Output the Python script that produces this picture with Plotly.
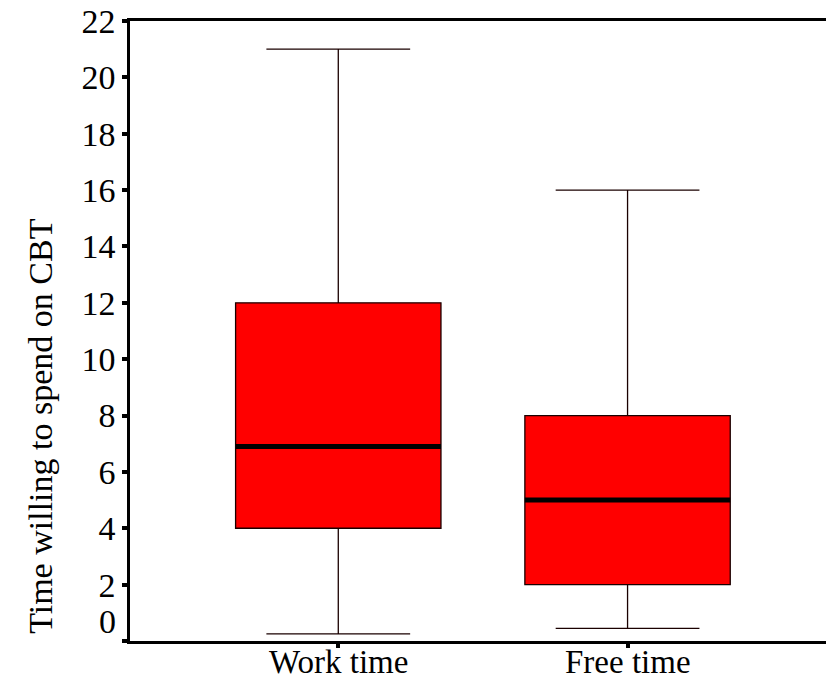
import plotly.graph_objects as go

categories = ["Work time", "Free time"]
lower_whisker = [0.25, 0.45]
q1 = [4, 2]
median = [6.9, 5]
q3 = [12, 8]
upper_whisker = [21, 16]
y_ticks = list(range(0, 23, 2))

box_width = 0.71
font = "Liberation Serif, Times New Roman, serif"

fig = go.Figure()
for i, name in enumerate(categories):
    fig.add_trace(go.Box(
        x=[i], q1=[q1[i]], median=[median[i]], q3=[q3[i]],
        lowerfence=[lower_whisker[i]], upperfence=[upper_whisker[i]],
        width=box_width, whiskerwidth=0.7,
        fillcolor="#FF0000", line=dict(color="#1a0000", width=1.3),
        boxpoints=False, showlegend=False, hoverinfo="skip",
    ))
    fig.add_trace(go.Scatter(
        x=[i - box_width / 2, i + box_width / 2], y=[median[i], median[i]],
        mode="lines", line=dict(color="black", width=5),
        showlegend=False, hoverinfo="skip",
    ))

ticktext = ["" if v == 0 else str(v) for v in y_ticks]

annotations = [
    dict(
        text="0", xref="paper", yref="y", x=0, y=0, xanchor="right",
        yanchor="middle", xshift=-12, yshift=20, showarrow=False,
        font=dict(family=font, size=34, color="black"),
    ),
    dict(
        text="Time willing to spend on CBT", xref="paper", yref="paper",
        x=0, y=0.347, xanchor="center", yanchor="middle", textangle=-90,
        xshift=-89, showarrow=False,
        font=dict(family=font, size=34, color="black"),
    ),
]
for i, name in enumerate(categories):
    annotations.append(dict(
        text=name, xref="x", yref="paper", x=i, y=0, xanchor="center",
        yanchor="middle", yshift=-21, showarrow=False, borderpad=0,
        font=dict(family=font, size=33, color="black"),
    ))

fig.update_layout(
    width=826, height=682,
    margin=dict(l=130, r=0, t=21, b=41),
    plot_bgcolor="white", paper_bgcolor="white",
    font=dict(family=font, size=34, color="black"),
    xaxis=dict(
        range=[-0.72, 1.686], tickvals=[0, 1], showticklabels=False,
        showline=True, linecolor="black", linewidth=2.5, mirror=True,
        ticks="outside", ticklen=4, tickwidth=4, tickcolor="black",
        showgrid=False, zeroline=False, automargin=False,
    ),
    yaxis=dict(
        range=[0, 22], tickvals=y_ticks, ticktext=ticktext,
        showline=True, linecolor="black", linewidth=2.5,
        ticks="outside", ticklen=5, tickwidth=4, tickcolor="black",
        showgrid=False, zeroline=False, tickfont=dict(size=34),
        automargin=False,
    ),
    annotations=annotations,
)

fig.write_html("out.html")
